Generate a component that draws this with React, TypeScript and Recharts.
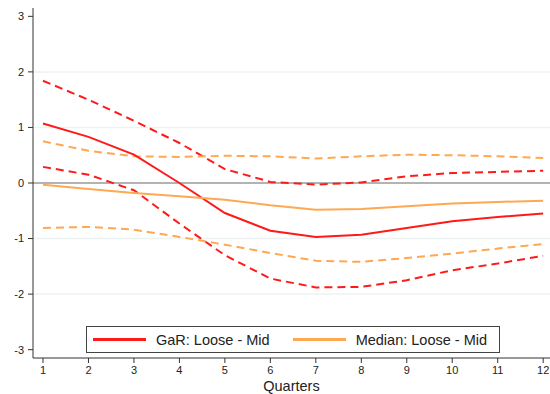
import { LineChart, Line, XAxis, YAxis, ReferenceLine, Legend } from 'recharts';

const quarters = [1, 2, 3, 4, 5, 6, 7, 8, 9, 10, 11, 12];
const garMid = [1.07, 0.83, 0.51, 0.0, -0.54, -0.86, -0.97, -0.93, -0.81, -0.69, -0.61, -0.55];
const garUpper = [1.84, 1.5, 1.12, 0.72, 0.25, 0.02, -0.03, 0.01, 0.12, 0.18, 0.2, 0.22];
const garLower = [0.29, 0.15, -0.13, -0.73, -1.3, -1.72, -1.88, -1.87, -1.75, -1.57, -1.45, -1.31];
const medMid = [-0.03, -0.11, -0.18, -0.24, -0.3, -0.4, -0.48, -0.47, -0.42, -0.37, -0.34, -0.32];
const medUpper = [0.75, 0.58, 0.48, 0.47, 0.49, 0.48, 0.44, 0.48, 0.51, 0.5, 0.48, 0.45];
const medLower = [-0.81, -0.79, -0.84, -0.97, -1.11, -1.26, -1.4, -1.42, -1.35, -1.27, -1.18, -1.1];
const yTicks = [-3, -2, -1, 0, 1, 2, 3];
const gridValues = [-2, -1, 1, 2];
const legendKeys = ['garMid', 'medMid'];

const data = quarters.map((q, i) => ({
  q,
  garMid: garMid[i],
  garUpper: garUpper[i],
  garLower: garLower[i],
  medMid: medMid[i],
  medUpper: medUpper[i],
  medLower: medLower[i],
}));

const RED = '#ff1a1a';
const ORANGE = '#ffa852';
const FONT = '"Liberation Sans", Arial, sans-serif';

function LegendBox({ payload }: any) {
  const items = (payload || []).filter((p: any) => legendKeys.includes(p.dataKey));
  return (
    <div
      style={{
        border: '1px solid #444',
        background: '#fff',
        height: 27,
        boxSizing: 'border-box',
        display: 'flex',
        alignItems: 'center',
        fontFamily: FONT,
        fontSize: 14.5,
        color: '#222',
        whiteSpace: 'nowrap',
      }}
    >
      {items.map((p: any, i: number) => (
        <div key={i} style={{ display: 'flex', alignItems: 'center', marginLeft: i === 0 ? 6 : 23 }}>
          <div style={{ width: 53, height: 2.5, background: p.color, marginRight: 10 }} />
          <span>{p.value}</span>
        </div>
      ))}
    </div>
  );
}

export default function App() {
  return (
    <div style={{ position: 'absolute', left: 0, top: 0, background: '#fff' }}>
      <LineChart width={550} height={394} data={data} margin={{ top: 8, right: 0, left: 0, bottom: 0 }}>
        {gridValues.map((v) => (
          <ReferenceLine key={v} y={v} stroke="#edf2f2" strokeWidth={1.5} />
        ))}
        <ReferenceLine y={0} stroke="#9a9a9a" strokeWidth={1.5} />
        <XAxis
          dataKey="q"
          type="number"
          domain={[0.78, 12.15]}
          ticks={quarters}
          allowDataOverflow
          height={36}
          stroke="#333"
          tickSize={5}
          tickMargin={3}
          tick={{ fill: '#222', fontSize: 11, fontFamily: FONT }}
          label={{ value: 'Quarters', position: 'insideBottom', offset: 3, fill: '#222', fontSize: 14.5, fontFamily: FONT }}
        />
        <YAxis
          type="number"
          domain={[-3.15, 3.15]}
          ticks={yTicks}
          allowDataOverflow
          width={33}
          stroke="#333"
          tickSize={5}
          tickMargin={4}
          tick={{ fill: '#222', fontSize: 11, fontFamily: FONT }}
        />
        <Line dataKey="garUpper" stroke={RED} strokeWidth={2} strokeDasharray="8 5" dot={false} legendType="none" isAnimationActive={false} />
        <Line dataKey="garLower" stroke={RED} strokeWidth={2} strokeDasharray="8 5" dot={false} legendType="none" isAnimationActive={false} />
        <Line dataKey="medUpper" stroke={ORANGE} strokeWidth={2} strokeDasharray="8 5" dot={false} legendType="none" isAnimationActive={false} />
        <Line dataKey="medLower" stroke={ORANGE} strokeWidth={2} strokeDasharray="8 5" dot={false} legendType="none" isAnimationActive={false} />
        <Line dataKey="garMid" name="GaR: Loose - Mid" stroke={RED} strokeWidth={2} dot={false} isAnimationActive={false} />
        <Line dataKey="medMid" name="Median: Loose - Mid" stroke={ORANGE} strokeWidth={2} dot={false} isAnimationActive={false} />
        <Legend
          layout="horizontal"
          verticalAlign="middle"
          align="center"
          content={<LegendBox />}
          wrapperStyle={{ left: 86, top: 326, width: 414 }}
        />
      </LineChart>
    </div>
  );
}
